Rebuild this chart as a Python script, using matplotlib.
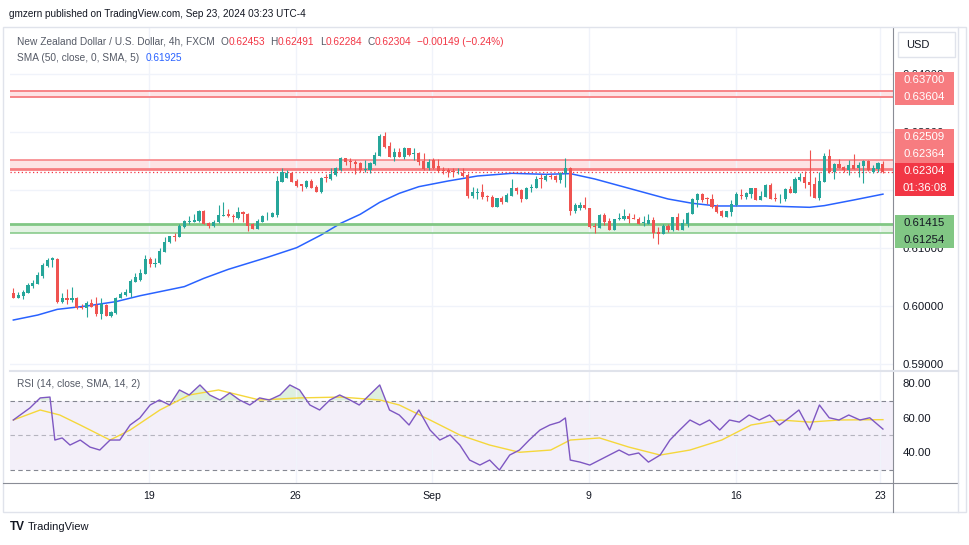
import numpy as np
import matplotlib.pyplot as plt
from matplotlib.patches import Rectangle

plt.rcParams['font.family'] = ['Liberation Sans', 'DejaVu Sans']

# NZD/USD 4h candles (FXCM), Aug 13 - Sep 23 2024
opens = [0.60214, 0.60140, 0.60174, 0.60226, 0.60341, 0.60381, 0.60513, 0.60692, 0.60789, 0.60806,
         0.60071, 0.60134, 0.60105, 0.60140, 0.59984, 0.59956, 0.60042, 0.60013, 0.59852, 0.60013,
         0.59829, 0.59869, 0.60140, 0.60186, 0.60226, 0.60416, 0.60444, 0.60548, 0.60806, 0.60715,
         0.60732, 0.60933, 0.61094, 0.61209, 0.61192, 0.61364, 0.61439, 0.61451, 0.61462, 0.61635,
         0.61428, 0.61382, 0.61439, 0.61554, 0.61577, 0.61554, 0.61520, 0.61612, 0.61583, 0.61405,
         0.61330, 0.61451, 0.61543, 0.61531, 0.61566, 0.62141, 0.62210, 0.62296, 0.62158, 0.62095,
         0.62043, 0.62152, 0.62054, 0.61957, 0.62215, 0.62187, 0.62256, 0.62342, 0.62543, 0.62497,
         0.62486, 0.62457, 0.62342, 0.62342, 0.62440, 0.62589, 0.62928, 0.62756, 0.62572, 0.62647,
         0.62572, 0.62716, 0.62618, 0.62641, 0.62497, 0.62371, 0.62514, 0.62411, 0.62336, 0.62336,
         0.62319, 0.62284, 0.62296, 0.62256, 0.61899, 0.61951, 0.61968, 0.61899, 0.61882, 0.61709,
         0.61865, 0.61796, 0.61899, 0.62037, 0.61997, 0.61842, 0.62026, 0.62037, 0.62198, 0.62169,
         0.62238, 0.62238, 0.62169, 0.62284, 0.62382, 0.61635, 0.61692, 0.61738, 0.61681, 0.61382,
         0.61347, 0.61566, 0.61462, 0.61307, 0.61491, 0.61497, 0.61548, 0.61514, 0.61497, 0.61428,
         0.61416, 0.61479, 0.61267, 0.61238, 0.61376, 0.61307, 0.61525, 0.61307, 0.61405, 0.61583,
         0.61830, 0.61928, 0.61853, 0.61842, 0.61727, 0.61635, 0.61537, 0.61623, 0.61738, 0.61916,
         0.61882, 0.61922, 0.62026, 0.61824, 0.61882, 0.62083, 0.61865, 0.61853, 0.61842, 0.62014,
         0.61951, 0.62169, 0.62227, 0.62129, 0.62100, 0.61853, 0.62141, 0.62583, 0.62302, 0.62445,
         0.62399, 0.62342, 0.62428, 0.62371, 0.62417, 0.62503, 0.62302, 0.62359, 0.62453]
highs = [0.60301, 0.60232, 0.60272, 0.60387, 0.60444, 0.60577, 0.60732, 0.60830, 0.60841, 0.60818,
         0.60214, 0.60289, 0.60318, 0.60151, 0.60025, 0.60088, 0.60111, 0.60157, 0.60128, 0.60025,
         0.59910, 0.60157, 0.60243, 0.60289, 0.60456, 0.60559, 0.60628, 0.60876, 0.60835, 0.60818,
         0.61002, 0.61180, 0.61209, 0.61249, 0.61405, 0.61479, 0.61554, 0.61577, 0.61652, 0.61646,
         0.61451, 0.61479, 0.61738, 0.61784, 0.61664, 0.61577, 0.61698, 0.61635, 0.61594, 0.61422,
         0.61497, 0.61566, 0.61612, 0.61612, 0.62238, 0.62371, 0.62342, 0.62313, 0.62187, 0.62100,
         0.62169, 0.62187, 0.62083, 0.62215, 0.62273, 0.62371, 0.62399, 0.62566, 0.62555, 0.62555,
         0.62514, 0.62474, 0.62514, 0.62486, 0.62658, 0.62963, 0.63003, 0.62831, 0.62716, 0.62716,
         0.62739, 0.62727, 0.62716, 0.62658, 0.62629, 0.62532, 0.62543, 0.62532, 0.62399, 0.62371,
         0.62371, 0.62382, 0.62371, 0.62284, 0.62054, 0.62026, 0.62100, 0.61911, 0.61911, 0.61865,
         0.61899, 0.61939, 0.62187, 0.62054, 0.62014, 0.62043, 0.62100, 0.62238, 0.62267, 0.62267,
         0.62267, 0.62256, 0.62313, 0.62555, 0.62399, 0.61767, 0.61784, 0.61882, 0.61686, 0.61422,
         0.61583, 0.61594, 0.61508, 0.61502, 0.61594, 0.61669, 0.61594, 0.61583, 0.61537, 0.61548,
         0.61577, 0.61525, 0.61364, 0.61410, 0.61405, 0.61537, 0.61594, 0.61497, 0.61612, 0.61865,
         0.61939, 0.61951, 0.61882, 0.61922, 0.61750, 0.61652, 0.61640, 0.61824, 0.61957, 0.62014,
         0.61968, 0.62037, 0.62031, 0.61980, 0.62100, 0.62112, 0.61939, 0.61928, 0.62026, 0.62072,
         0.62215, 0.62284, 0.62325, 0.62687, 0.62227, 0.62302, 0.62629, 0.62704, 0.62468, 0.62532,
         0.62417, 0.62514, 0.62618, 0.62474, 0.62514, 0.62508, 0.62428, 0.62474, 0.62491]
lows = [0.60135, 0.60128, 0.60117, 0.60214, 0.60301, 0.60370, 0.60485, 0.60674, 0.60674, 0.60053,
        0.60042, 0.60030, 0.60071, 0.59944, 0.59944, 0.59812, 0.59973, 0.59829, 0.59772, 0.59818,
        0.59800, 0.59858, 0.60128, 0.60174, 0.60157, 0.60404, 0.60427, 0.60542, 0.60674, 0.60674,
        0.60720, 0.60922, 0.61083, 0.61117, 0.61180, 0.61336, 0.61410, 0.61439, 0.61451, 0.61405,
        0.61347, 0.61364, 0.61422, 0.61548, 0.61537, 0.61451, 0.61497, 0.61451, 0.61295, 0.61324,
        0.61324, 0.61439, 0.61479, 0.61525, 0.61525, 0.62129, 0.62198, 0.62135, 0.62049, 0.61985,
        0.62031, 0.62026, 0.61962, 0.61945, 0.62141, 0.62169, 0.62244, 0.62330, 0.62428, 0.62382,
        0.62267, 0.62313, 0.62313, 0.62296, 0.62428, 0.62578, 0.62716, 0.62560, 0.62503, 0.62560,
        0.62532, 0.62589, 0.62514, 0.62428, 0.62342, 0.62342, 0.62359, 0.62302, 0.62267, 0.62227,
        0.62227, 0.62279, 0.62215, 0.61865, 0.61853, 0.61842, 0.61842, 0.61813, 0.61704, 0.61704,
        0.61750, 0.61784, 0.61888, 0.61922, 0.61796, 0.61836, 0.61968, 0.62026, 0.62037, 0.62158,
        0.62187, 0.62141, 0.62112, 0.62054, 0.61566, 0.61606, 0.61652, 0.61669, 0.61347, 0.61249,
        0.61341, 0.61393, 0.61301, 0.61301, 0.61479, 0.61479, 0.61433, 0.61491, 0.61405, 0.61382,
        0.61405, 0.61163, 0.61065, 0.61232, 0.61267, 0.61290, 0.61301, 0.61301, 0.61364, 0.61577,
        0.61709, 0.61796, 0.61755, 0.61692, 0.61594, 0.61537, 0.61531, 0.61554, 0.61727, 0.61842,
        0.61842, 0.61865, 0.61819, 0.61819, 0.61870, 0.61836, 0.61807, 0.61778, 0.61813, 0.61939,
        0.61939, 0.62152, 0.62026, 0.61893, 0.61859, 0.61824, 0.62135, 0.62284, 0.62187, 0.62371,
        0.62313, 0.62256, 0.62353, 0.62227, 0.62123, 0.62325, 0.62296, 0.62313, 0.62284]
closes = [0.60140, 0.60186, 0.60243, 0.60358, 0.60398, 0.60531, 0.60703, 0.60795, 0.60818, 0.60071,
          0.60128, 0.60105, 0.60140, 0.59956, 0.59956, 0.60042, 0.59984, 0.59852, 0.60030, 0.59829,
          0.59887, 0.60140, 0.60197, 0.60243, 0.60427, 0.60502, 0.60571, 0.60806, 0.60715, 0.60743,
          0.60945, 0.61106, 0.61203, 0.61186, 0.61382, 0.61462, 0.61468, 0.61479, 0.61635, 0.61410,
          0.61382, 0.61451, 0.61566, 0.61566, 0.61554, 0.61531, 0.61612, 0.61577, 0.61382, 0.61330,
          0.61462, 0.61554, 0.61554, 0.61606, 0.62152, 0.62313, 0.62296, 0.62141, 0.62066, 0.62072,
          0.62152, 0.62037, 0.61968, 0.62210, 0.62198, 0.62273, 0.62371, 0.62555, 0.62486, 0.62480,
          0.62445, 0.62342, 0.62365, 0.62457, 0.62601, 0.62934, 0.62744, 0.62572, 0.62647, 0.62572,
          0.62727, 0.62601, 0.62629, 0.62474, 0.62359, 0.62474, 0.62371, 0.62325, 0.62319, 0.62302,
          0.62302, 0.62296, 0.62244, 0.61899, 0.61968, 0.61962, 0.61882, 0.61882, 0.61709, 0.61853,
          0.61796, 0.61911, 0.62037, 0.61985, 0.61842, 0.62037, 0.62054, 0.62187, 0.62181, 0.62244,
          0.62215, 0.62169, 0.62284, 0.62382, 0.61635, 0.61738, 0.61738, 0.61681, 0.61364, 0.61364,
          0.61566, 0.61451, 0.61307, 0.61497, 0.61508, 0.61548, 0.61497, 0.61502, 0.61416, 0.61439,
          0.61479, 0.61249, 0.61244, 0.61376, 0.61307, 0.61525, 0.61307, 0.61433, 0.61594, 0.61842,
          0.61928, 0.61824, 0.61836, 0.61709, 0.61612, 0.61554, 0.61635, 0.61750, 0.61922, 0.61893,
          0.61939, 0.62026, 0.61824, 0.61893, 0.62083, 0.61842, 0.61836, 0.61865, 0.62014, 0.61951,
          0.62187, 0.62227, 0.62123, 0.62083, 0.61865, 0.62152, 0.62583, 0.62302, 0.62445, 0.62382,
          0.62342, 0.62428, 0.62359, 0.62428, 0.62503, 0.62342, 0.62371, 0.62468, 0.62304]

# SMA(50) at these bar numbers
sma_bar = [0, 5, 9, 15, 21, 26, 30, 35, 39, 44, 52, 58, 63, 67, 71, 75, 79, 83, 89,
           95, 102, 109, 114, 119, 126, 134, 139, 144, 154, 163, 166, 172, 178]
sma_vals = [0.59754, 0.59840, 0.59938, 0.59996, 0.60071, 0.60174, 0.60243, 0.60330, 0.60473,
            0.60628, 0.60835, 0.61002, 0.61221, 0.61422, 0.61577, 0.61784, 0.61939, 0.62054,
            0.62152, 0.62238, 0.62284, 0.62267, 0.62279, 0.62187, 0.62026, 0.61842, 0.61767,
            0.61721, 0.61721, 0.61698, 0.61727, 0.61824, 0.61925]

# RSI(14) and its SMA(14)
rsi_bar = [0, 1.4, 3.4, 5.5, 7.5, 8.5, 10, 11.6, 13.7, 15.7, 17.7, 19.8, 21.8, 23.9, 25.9, 28,
           29.9, 32, 34, 36, 38.2, 40.2, 42.3, 44.3, 46.3, 48.4, 50.4, 52.4, 54.6, 56.6, 58.6,
           60.7, 62.7, 64.8, 66.8, 68.9, 70.8, 72.9, 75, 77, 79, 81, 83, 85.3, 87.3, 89.4, 91.4,
           93.4, 95.5, 97.5, 99.5, 101.6, 103.6, 105.6, 107.8, 109.8, 111.8, 113, 114, 116, 118,
           120, 122, 124, 126, 128, 130, 132.4, 134.4, 136.4, 138.5, 140.5, 142.5, 144.6, 146.6,
           148.6, 150.6, 152.7, 154.8, 156.8, 158.8, 160.8, 163, 165, 167, 169, 171, 173.3,
           175.3, 178]
rsi_vals = [58.7, 61.6, 65.7, 71.5, 72, 47.1, 48.3, 44.2, 47.1, 43, 41.3, 47.1, 47.1, 55.8, 59.9,
            67.4, 70.3, 67.4, 76.1, 73.2, 79, 73.2, 70.3, 74.4, 70.3, 67.4, 71.5, 70.3, 73.2, 79,
            76.1, 67.4, 64.5, 70.3, 73.2, 70.3, 67.4, 73.2, 79, 64.5, 61.6, 55.8, 64.5, 52.9, 47.1,
            50, 44.2, 35.5, 32.6, 35.5, 29.7, 38.4, 41.3, 47.1, 52.9, 55.8, 57.5, 59.9, 35.5, 34.3,
            32.6, 35.5, 38.4, 41.3, 38.4, 39.6, 34.3, 38.4, 47.1, 52.9, 58.7, 55.8, 58.7, 52.9,
            58.7, 57.5, 61.6, 58.7, 61.6, 55.8, 60, 64.5, 52.9, 67.4, 60, 58.7, 61.6, 58.7, 60, 53.45]
rsi_ma_bar = [0, 5.5, 9.5, 13.7, 19.8, 23.9, 30, 36, 42, 50.4, 58.6, 67, 75, 79, 85.3, 91.4,
              97.5, 103.6, 110, 114, 120, 126, 132.4, 138.5, 145, 151, 157, 163, 169, 178]
rsi_ma_vals = [58.7, 64.5, 61.6, 55.8, 47.1, 52.9, 64.5, 73.2, 76.1, 70.3, 71.5, 72, 70.3, 67.4,
               58.7, 50, 44.2, 40, 41.3, 47.1, 48.3, 43, 38.4, 41.3, 47.1, 55.8, 58.7, 57.5, 58.7,
               58.91]

date_pos = [27.8, 57.8, 85.7, 117.8, 147.9, 177.4]
date_labels = ['19', '26', 'Sep', '9', '16', '23']
price_ticks = [0.59, 0.60, 0.61, 0.62, 0.63, 0.64]
price_hidden = [0.62]  # fully covered by the last-price tag
rsi_ticks = [40, 60, 80]

zone_top = (0.63604, 0.63700)
zone_mid = (0.62364, 0.62509)
zone_sup = (0.61254, 0.61415)

UP, DOWN = '#26A69A', '#EF5350'
W, H = 970, 545


def fx(x):
    return x / W


def fy(y):
    return 1 - y / H


fig = plt.figure(figsize=(W / 100, H / 100), dpi=100)
fig.patch.set_facecolor('white')

ax = fig.add_axes([fx(10), fy(370), fx(893) - fx(10), fy(27) - fy(370)])
rx = fig.add_axes([fx(10), fy(483), fx(893) - fx(10), fy(371) - fy(483)], sharex=ax)

# candles
o, h, l, c = map(np.array, (opens, highs, lows, closes))
bars = np.arange(len(c))
cols = np.where(c >= o, UP, DOWN)
ax.vlines(bars, l, h, colors=cols, lw=0.8, zorder=3)
ax.bar(bars, np.maximum(np.abs(c - o), 0.00003), bottom=np.minimum(o, c),
       width=0.64, color=cols, lw=0, zorder=3)

ax.plot(sma_bar, sma_vals, color='#2962FF', lw=1.1, zorder=2)

# zones
ax.axhspan(*zone_top, color='#FDE3E5', lw=0, zorder=1)
ax.axhline(zone_top[1], color='#F77C80', lw=1.3, zorder=2)
ax.axhline(zone_top[0], color='#F77C80', lw=1.3, zorder=2)
ax.axhspan(*zone_mid, color='#FDE3E5', lw=0, zorder=1)
ax.axhline(zone_mid[1], color='#F77C80', lw=1.1, zorder=2)
ax.axhline(zone_mid[0], color='#F77C80', lw=2.0, zorder=2)
ax.axhspan(*zone_sup, color='#E3F3E3', lw=0, zorder=1)
ax.axhline(zone_sup[1], color='#81C784', lw=2.0, zorder=2)
ax.axhline(zone_sup[0], color='#81C784', lw=1.1, zorder=2)
ax.axhline(c[-1], color='#F23645', lw=0.9, ls=(0, (1, 2)), zorder=2)

ax.set_xlim(-0.68, 180.06)
ax.set_ylim(0.58892, 0.64808)
ax.set_yticks(price_ticks)
ax.set_yticklabels(['' if p in price_hidden else f'{p:.5f}' for p in price_ticks])
ax.yaxis.tick_right()
ax.set_xticks(date_pos)
ax.grid(True, color='#F0F3FA', lw=1, zorder=0)
ax.tick_params(axis='x', labelbottom=False, length=0)
ax.tick_params(axis='y', length=0, pad=7, labelsize=8.2, labelcolor='#131722')
for s in ('left', 'top', 'bottom'):
    ax.spines[s].set_visible(False)
ax.spines['right'].set_color('#8A8D96')
ax.spines['right'].set_linewidth(0.8)

# RSI panel
rx.axhspan(30, 70, color='#7E57C2', alpha=0.09, lw=0)
for lvl, a in ((70, 0.9), (50, 0.5), (30, 0.9)):
    rx.axhline(lvl, color='#787B86', lw=0.8, ls=(0, (4, 3)), alpha=a)
rv = np.array(rsi_vals)
rx.fill_between(rsi_bar, 70, rv, where=rv > 70, interpolate=True, color='#4CAF50', alpha=0.18, lw=0)
rx.fill_between(rsi_bar, 30, rv, where=rv < 30, interpolate=True, color='#F23645', alpha=0.18, lw=0)
rx.plot(rsi_ma_bar, rsi_ma_vals, color='#F5D73B', lw=1.0)
rx.plot(rsi_bar, rsi_vals, color='#7E57C2', lw=1.0)
rx.set_ylim(22.2, 87.1)
rx.set_yticks(rsi_ticks)
rx.set_yticklabels([f'{v:.2f}' for v in rsi_ticks])
rx.yaxis.tick_right()
rx.set_xticks(date_pos)
rx.set_xticklabels(date_labels)
rx.grid(True, axis='x', color='#F0F3FA', lw=1)
rx.tick_params(axis='y', length=0, pad=7, labelsize=8.2, labelcolor='#131722')
rx.tick_params(axis='x', length=0, pad=6, labelsize=7.6, labelcolor='#131722')
for s in ('left', 'top', 'bottom'):
    rx.spines[s].set_visible(False)
rx.spines['right'].set_color('#8A8D96')
rx.spines['right'].set_linewidth(0.8)

# frame and separators
fig.patches.append(Rectangle((fx(3), fy(512)), fx(966) - fx(3), fy(27) - fy(512),
                             transform=fig.transFigure, fill=False, ec='#E0E3EB', lw=1))
fig.add_artist(plt.Line2D([fx(10), fx(958)], [fy(370.5)] * 2, color='#E0E3EB', lw=1.5))
fig.add_artist(plt.Line2D([fx(3), fx(958)], [fy(483)] * 2, color='#8A8D96', lw=0.8))
fig.add_artist(plt.Line2D([fx(893), fx(893)], [fy(483), fy(512)], color='#8A8D96', lw=0.8))
fig.add_artist(plt.Line2D([fx(958), fx(958)], [fy(27), fy(512)], color='#E0E3EB', lw=1))

# USD button
fig.patches.append(Rectangle((fx(898), fy(57)), fx(955) - fx(898), fy(32) - fy(57),
                             transform=fig.transFigure, fc='white', ec='#E0E3EB', lw=1))
fig.text(fx(906), fy(44.5), 'USD', fontsize=8, color='#131722', va='center')

# price labels on the scale (value, pixel shift, box colour, text colour)
scale_labels = [
    ('0.63700', zone_top[1], -11, '#F77C80', 'white'),
    ('0.63604', zone_top[0], 0, '#F77C80', 'white'),
    ('0.62509', zone_mid[1], -23, '#F77C80', 'white'),
    ('0.62364', zone_mid[0], -14.5, '#F77C80', 'white'),
    ('0.62304', c[-1], -1, '#F23645', 'white'),
    ('01:36:08', c[-1], 15.5, '#F23645', 'white'),
    ('0.61415', zone_sup[1], -0.5, '#81C784', '#131722'),
    ('0.61254', zone_sup[0], 7, '#81C784', '#131722'),
]
for txt, val, shift, bc, tc in scale_labels:
    ypix = H - ax.transData.transform((0, val))[1] + shift
    fig.patches.append(Rectangle((fx(895), fy(ypix + 8.4)), fx(954) - fx(895), 16.8 / H,
                                 transform=fig.transFigure, fc=bc, ec='none', zorder=5))
    fig.text(fx(924.5), fy(ypix), txt, fontsize=8.2, color=tc, ha='center', va='center', zorder=6)


def chain(parts, x, y, size):
    prev = fig.text(fx(x), fy(y), parts[0][0], color=parts[0][1], fontsize=size, va='center')
    for s, col, gap in parts[1:]:
        prev = ax.annotate(s, xy=(1, H - y), xycoords=(prev, 'figure pixels'),
                           xytext=(gap, 0), textcoords='offset points', color=col,
                           fontsize=size, va='center', annotation_clip=False)


GREY, RED = '#555A66', '#F23645'
fig.text(fx(9), fy(14), 'gmzern published on TradingView.com, Sep 23, 2024 03:23 UTC-4',
         fontsize=7.2, color='#131722', va='center')
chain([('New Zealand Dollar / U.S. Dollar, 4h, FXCM', GREY),
       ('O', GREY, 4), ('0.62453', RED, 0), ('H', GREY, 4), ('0.62491', RED, 0),
       ('L', GREY, 4), ('0.62284', RED, 0), ('C', GREY, 4), ('0.62304', RED, 0),
       ('\u22120.00149 (\u22120.24%)', RED, 4)], 17, 42, 7.3)
chain([('SMA (50, close, 0, SMA, 5)', GREY), ('0.61925', '#2962FF', 5)], 17, 58, 7.3)
chain([('RSI (14, close, SMA, 14, 2)', GREY), ('53.45', '#7E57C2', 5), ('58.91', '#F5D73B', 3),
       ('\u2205', GREY, 4), ('\u2205', GREY, 4)], 17, 384, 7.3)

# footer logo
fig.text(fx(10), fy(527), 'TV', fontsize=8.5, fontweight='heavy', color='#131722', va='center')
fig.text(fx(28), fy(527), 'TradingView', fontsize=8, color='#131722', va='center')

fig.savefig('out.png', dpi=100)
